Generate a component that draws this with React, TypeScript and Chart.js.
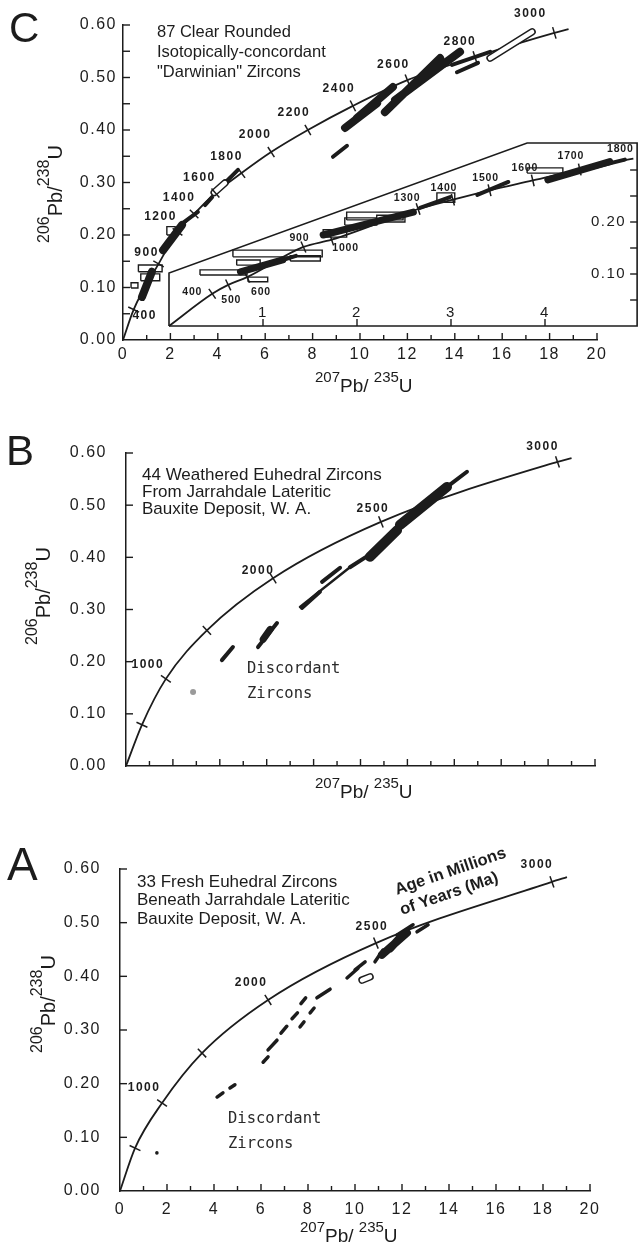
import { useEffect, useRef } from 'react';
import { Chart, registerables } from 'chart.js';

Chart.register(...registerables);

// ===================== DATA =====================
// ---- Panel C : 87 clear rounded zircons (main concordia) ----
const C_AGES = [400, 900, 1200, 1400, 1600, 1800, 2000, 2200, 2400, 2600, 2800, 3000];
const C_CONC_X = [0.45, 1.5, 2.3, 3.0, 3.9, 5.0, 6.25, 7.8, 9.7, 12.0, 14.85, 18.2];
const C_CONC_Y = [0.058, 0.145, 0.206, 0.24, 0.28, 0.318, 0.358, 0.4, 0.446, 0.495, 0.539, 0.585];
const C_CONC_START = [0, 0];
const C_CONC_END = [18.8, 0.592];
const C_LABEL_AGES = [400, 900, 1200, 1400, 1600, 1800, 2000, 2200, 2400, 2600, 2800, 3000];
// zircon ellipses as [x1, y1, x2, y2]
const C_FILLED_THICK = [
  [11.05, 0.434, 13.38, 0.537],
  [11.48, 0.457, 14.22, 0.549],
  [9.37, 0.404, 10.72, 0.451],
  [9.87, 0.423, 11.39, 0.482],
  [0.8, 0.082, 1.22, 0.13],
  [1.69, 0.171, 2.49, 0.219],
];
const C_FILLED_THIN = [
  [8.86, 0.349, 9.45, 0.37],
  [14.09, 0.51, 14.98, 0.528],
  [13.88, 0.524, 15.49, 0.549],
  [2.53, 0.223, 3.16, 0.244],
  [3.46, 0.257, 3.76, 0.272],
  [4.3, 0.299, 4.85, 0.324],
];
const C_OPEN_CAPS = [
  [15.49, 0.537, 17.26, 0.587],
  [3.85, 0.281, 4.3, 0.299],
];
const C_OPEN_BOXES = [
  [0.65, 0.13, 1.65, 0.143],
  [0.75, 0.113, 1.55, 0.126],
  [0.34, 0.099, 0.63, 0.109],
  [1.85, 0.2, 2.2, 0.216],
];

// ---- Panel C inset (expanded 400-1800 Ma concordia) ----
const CI_AGES = [400, 500, 600, 900, 1000, 1300, 1400, 1500, 1600, 1700, 1800];
const CI_CONC_X = [0.46, 0.63, 0.83, 1.43, 1.73, 2.65, 3.02, 3.41, 3.87, 4.37, 4.94];
const CI_CONC_Y = [0.062, 0.079, 0.094, 0.152, 0.166, 0.225, 0.243, 0.261, 0.28, 0.301, 0.322];
const CI_CONC_START = [0, 0];
const CI_CONC_END = [4.98, 0.323];
const CI_FRAME_X = [0, 0, 3.81, 4.98, 4.98, 0];
const CI_FRAME_Y = [0, 0.102, 0.352, 0.352, 0, 0];
const CI_X_TICKS = [1, 2, 3, 4];
const CI_Y_TICKS = [0.05, 0.1, 0.15, 0.2, 0.25, 0.3];
const CI_Y_TICK_LABELS = ['', '0.10', '', '0.20', '', ''];
const CI_FILLED_THICK = [
  [0.76, 0.104, 1.21, 0.127],
  [1.64, 0.175, 2.6, 0.219],
  [4.03, 0.281, 4.69, 0.316],
];
const CI_FILLED_THIN = [
  [0.95, 0.112, 1.35, 0.135],
  [2.67, 0.227, 2.99, 0.248],
  [3.28, 0.252, 3.61, 0.277],
  [4.4, 0.3, 4.85, 0.32],
];
const CI_OPEN_BOXES = [
  [0.68, 0.133, 1.63, 0.146],
  [1.29, 0.125, 1.61, 0.135],
  [0.33, 0.098, 0.83, 0.108],
  [0.72, 0.117, 0.97, 0.127],
  [0.84, 0.085, 1.05, 0.094],
  [1.89, 0.204, 2.49, 0.219],
  [1.87, 0.194, 2.21, 0.208],
  [1.64, 0.171, 1.89, 0.185],
  [2.21, 0.2, 2.51, 0.213],
  [3.81, 0.294, 4.19, 0.304],
  [2.85, 0.238, 3.04, 0.256],
];

// ---- Panel B : 44 weathered euhedral zircons ----
const B_AGES = [500, 1000, 1500, 2000, 2500, 3000];
const B_CONC_X = [0.68, 1.7, 3.45, 6.27, 10.87, 18.4];
const B_CONC_Y = [0.079, 0.167, 0.26, 0.36, 0.468, 0.583];
const B_CONC_START = [0, 0];
const B_CONC_END = [19.0, 0.59];
const B_LABEL_AGES = [1000, 2000, 2500, 3000];
const B_FILLED_THICK = [
  [10.4, 0.401, 11.56, 0.452],
  [11.68, 0.462, 13.69, 0.535],
];
const B_FILLED_MED = [[5.85, 0.243, 6.15, 0.262]];
const B_FILLED_THIN = [
  [13.69, 0.535, 14.54, 0.564],
  [9.55, 0.381, 10.49, 0.408],
  [8.36, 0.353, 9.13, 0.38],
  [4.09, 0.203, 4.56, 0.228],
  [5.63, 0.228, 6.44, 0.274],
  [7.5, 0.303, 8.27, 0.334],
];
const B_LINES = [[7.42, 0.305, 9.55, 0.381]];
const B_SMUDGE = [[2.86, 0.142]];

// ---- Panel A : 33 fresh euhedral zircons ----
const A_AGES = [500, 1000, 1500, 2000, 2500, 3000];
const A_CONC_X = [0.64, 1.79, 3.49, 6.3, 10.89, 18.38];
const A_CONC_Y = [0.08, 0.164, 0.257, 0.356, 0.462, 0.576];
const A_CONC_START = [0, 0];
const A_CONC_END = [19.02, 0.585];
const A_LABEL_AGES = [1000, 2000, 2500, 3000];
const A_FILLED_THICK = [
  [11.15, 0.44, 12.21, 0.481],
  [11.5, 0.452, 12.0, 0.476],
];
const A_FILLED_THIN = [
  [4.13, 0.175, 4.38, 0.183],
  [4.68, 0.192, 4.89, 0.198],
  [6.09, 0.24, 6.3, 0.25],
  [6.3, 0.263, 6.68, 0.281],
  [6.85, 0.294, 7.1, 0.307],
  [7.32, 0.321, 7.55, 0.332],
  [7.7, 0.349, 7.9, 0.36],
  [7.66, 0.306, 7.83, 0.315],
  [8.09, 0.332, 8.26, 0.341],
  [8.38, 0.36, 8.94, 0.376],
  [9.66, 0.397, 10.13, 0.415],
  [10.0, 0.412, 10.43, 0.427],
  [10.85, 0.427, 11.19, 0.449],
  [11.79, 0.477, 12.47, 0.496],
  [12.64, 0.483, 13.11, 0.496],
];
const A_OPEN_CAPS = [[10.3, 0.393, 10.64, 0.399]];
const A_DOTS = [[1.57, 0.071]];

// ---- axes ----
const X_MIN = 0;
const X_MAX = 20;
const X_STEP = 1;
const Y_MIN = 0;
const Y_MAX = 0.6;
const C_Y_STEP = 0.05;
const AB_Y_STEP = 0.1;

// ---- text ----
const C_NOTE = ['87 Clear Rounded', 'Isotopically-concordant', '"Darwinian" Zircons'];
const B_NOTE = ['44 Weathered Euhedral Zircons', 'From Jarrahdale Lateritic', 'Bauxite Deposit, W. A.'];
const A_NOTE = ['33 Fresh Euhedral Zircons', 'Beneath Jarrahdale Lateritic', 'Bauxite Deposit, W. A.'];
const DISCORDANT = ['Discordant', 'Zircons'];
const AGE_NOTE = ['Age in Millions', 'of Years (Ma)'];
const Y_TITLE: [string, boolean][] = [['206', true], ['Pb/', false], ['238', true], ['U', false]];
const X_TITLE: [string, boolean][] = [['207', true], ['Pb/ ', false], ['235', true], ['U', false]];

// ===================== STYLE / LAYOUT =====================
const INK = '#1c1c1c';
const SANS = '"Liberation Sans", Arial, Helvetica, sans-serif';
const MONO = '"DejaVu Sans Mono", "Liberation Mono", monospace';
const PAGE_W = 639;
const PAGE_H = 1246;

const LABEL_OFFSETS: Record<string, Record<number, number[]>> = {
  C: { 400: [11, 6], 900: [-12, -11], 1200: [-17, -15], 1400: [-15, -16], 1600: [-16, -15], 1800: [-15, -16], 2000: [-16, -17], 2200: [-14, -17], 2400: [-14, -17], 2600: [-14, -15], 2800: [-15, -15], 3000: [-24, -19] },
  CI: { 400: [-20, -2], 500: [3, 15], 600: [14, 15], 900: [-4, -9], 1000: [14, 8], 1300: [-11, -11], 1400: [-9, -12], 1500: [-4, -12], 1600: [-8, -12], 1700: [-9, -13], 1800: [-13, -9] },
  B: { 1000: [-18, -14], 2000: [-15, -8], 2500: [-8, -13], 3000: [-15, -15] },
  A: { 1000: [-18, -15], 2000: [-17, -17], 2500: [-4, -16], 3000: [-15, -17] },
};

// inset placement inside panel C canvas (pixels)
const CI_ORIGIN_PX = 169;
const CI_ORIGIN_PY = 326;
const CI_PX_PER_X = 94;
const CI_PX_PER_Y = 520;

// ===================== HELPERS =====================
type XY = { x: number; y: number };
const gap = (): XY => ({ x: NaN, y: NaN });
const pts = (xs: number[], ys: number[]): XY[] => xs.map((x, i) => ({ x, y: ys[i] }));
const segPts = (segs: number[][]): XY[] =>
  segs.flatMap((s) => [{ x: s[0], y: s[1] }, { x: s[2], y: s[3] }, gap()]);
const boxPts = (boxes: number[][]): XY[] =>
  boxes.flatMap((b) => [
    { x: b[0], y: b[1] }, { x: b[2], y: b[1] }, { x: b[2], y: b[3] }, { x: b[0], y: b[3] }, { x: b[0], y: b[1] }, gap(),
  ]);

function lineDs(data: XY[], width: number, color: string, order: number, axes: string[] = ['x', 'y'], extra: any = {}) {
  return {
    type: 'scatter', data, showLine: true, borderColor: color, backgroundColor: color, borderWidth: width,
    pointRadius: 0, pointHoverRadius: 0, pointHitRadius: 0, borderCapStyle: 'round', borderJoinStyle: 'round',
    spanGaps: false, fill: false, clip: false, order, xAxisID: axes[0], yAxisID: axes[1], ...extra,
  };
}

function concordia(xs: number[], ys: number[], start: number[], end: number[], axes: string[], tickR: number) {
  const curve: XY[] = [{ x: start[0], y: start[1] }, ...pts(xs, ys), { x: end[0], y: end[1] }];
  return [
    lineDs(curve, 1.8, INK, 10, axes, { cubicInterpolationMode: 'monotone', borderCapStyle: 'butt' }),
    {
      type: 'scatter', data: pts(xs, ys), xAxisID: axes[0], yAxisID: axes[1], pointStyle: 'line',
      pointRadius: tickR, pointHoverRadius: tickR, pointBorderColor: INK, pointBackgroundColor: INK,
      pointBorderWidth: 1.5, borderColor: INK, borderWidth: 1.5, clip: false, order: 0,
      pointRotation: (ctx: any) => {
        const i = ctx.dataIndex;
        if (i == null) return 0;
        const c = ctx.chart;
        const sx = c.scales[axes[0]];
        const sy = c.scales[axes[1]];
        const a = curve[i];
        const b = curve[i + 2];
        const dx = sx.getPixelForValue(b.x) - sx.getPixelForValue(a.x);
        const dy = sy.getPixelForValue(b.y) - sy.getPixelForValue(a.y);
        return (Math.atan2(dy, dx) * 180) / Math.PI + 90;
      },
    },
  ];
}

function zircons(thick: number[][], thin: number[][], caps: number[][], boxes: number[][], axes: string[], thickW = 8, thinW = 4) {
  const out: any[] = [];
  if (thick.length) out.push(lineDs(segPts(thick), thickW, INK, 8, axes));
  if (thin.length) out.push(lineDs(segPts(thin), thinW, INK, 8, axes));
  if (caps.length) {
    out.push(lineDs(segPts(caps), 7.5, INK, 6, axes));
    out.push(lineDs(segPts(caps), 4.5, '#ffffff', 5, axes));
  }
  if (boxes.length) out.push(lineDs(boxPts(boxes), 1.4, INK, 4, axes, { borderCapStyle: 'butt', borderJoinStyle: 'miter' }));
  return out;
}

type Txt = { text: string; x: number; y: number; font: string; align?: CanvasTextAlign; rot?: number; spacing?: string; color?: string };
type Title = { parts: [string, boolean][]; x: number; y: number; rot: number; main: string; sup: string; raise: number };
type AgeLabels = { ages: number[]; labelAges: number[]; xs: number[]; ys: number[]; axes: string[]; offsets: Record<number, number[]>; font: string; spacing: string };
type Area = { left: number; right: number; top: number; bottom: number };
type PanelSpec = {
  key: string; top: number; h: number; area: Area; yStep: number; yPad: number; xPad: number; xLabels: boolean;
  inset: boolean; datasets: any[]; ageLabels: AgeLabels[]; texts: Txt[]; titles: Title[];
};

function drawParts(ctx: CanvasRenderingContext2D, t: Title) {
  ctx.save();
  ctx.translate(t.x, t.y);
  ctx.rotate((t.rot * Math.PI) / 180);
  ctx.textAlign = 'left';
  ctx.textBaseline = 'alphabetic';
  (ctx as any).letterSpacing = '0px';
  let u = 0;
  for (const [s, sup] of t.parts) {
    ctx.font = sup ? t.sup : t.main;
    ctx.fillText(s, u, sup ? -t.raise : 0);
    u += ctx.measureText(s).width;
  }
  ctx.restore();
}

function seg(ctx: CanvasRenderingContext2D, x1: number, y1: number, x2: number, y2: number) {
  ctx.beginPath();
  ctx.moveTo(x1, y1);
  ctx.lineTo(x2, y2);
  ctx.stroke();
}

function makeDecor(spec: PanelSpec) {
  return {
    id: 'decor' + spec.key,
    beforeDraw(chart: any) {
      chart.ctx.letterSpacing = '1.5px';
    },
    afterDraw(chart: any) {
      const ctx: CanvasRenderingContext2D = chart.ctx;
      const area = chart.chartArea;
      const sx = chart.scales.x;
      const sy = chart.scales.y;
      ctx.save();
      ctx.strokeStyle = INK;
      ctx.fillStyle = INK;
      ctx.lineWidth = 1.4;
      // inward axis tick marks
      for (const t of sx.ticks) {
        if (t.value <= X_MIN) continue;
        const p = sx.getPixelForValue(t.value);
        const len = Math.round(t.value) % 2 === 0 ? 7 : 5;
        seg(ctx, p, area.bottom, p, area.bottom - len);
      }
      for (const t of sy.ticks) {
        if (t.value <= Y_MIN + 1e-9) continue;
        const p = sy.getPixelForValue(t.value);
        seg(ctx, area.left, p, area.left + 7, p);
      }
      // inset axes (panel C)
      if (spec.inset) {
        const sx2 = chart.scales.x2;
        const sy2 = chart.scales.y2;
        const b = sy2.getPixelForValue(0);
        const r = sx2.getPixelForValue(CI_FRAME_X[3]);
        ctx.font = `15px ${SANS}`;
        (ctx as any).letterSpacing = '1.5px';
        ctx.textAlign = 'center';
        ctx.textBaseline = 'alphabetic';
        CI_X_TICKS.forEach((v) => {
          const p = sx2.getPixelForValue(v);
          seg(ctx, p, b, p, b - 7);
          ctx.fillText(String(v), p, b - 9);
        });
        ctx.textAlign = 'right';
        ctx.textBaseline = 'middle';
        CI_Y_TICKS.forEach((v, i) => {
          const p = sy2.getPixelForValue(v);
          seg(ctx, r, p, r - 7, p);
          if (CI_Y_TICK_LABELS[i]) ctx.fillText(CI_Y_TICK_LABELS[i], r - 11, p);
        });
      }
      // age labels
      ctx.textAlign = 'center';
      ctx.textBaseline = 'middle';
      for (const al of spec.ageLabels) {
        ctx.font = al.font;
        (ctx as any).letterSpacing = al.spacing;
        const xs = chart.scales[al.axes[0]];
        const ys = chart.scales[al.axes[1]];
        al.labelAges.forEach((age) => {
          const i = al.ages.indexOf(age);
          const off = al.offsets[age] || [-15, -15];
          const px = xs.getPixelForValue(al.xs[i]) + off[0];
          const py = ys.getPixelForValue(al.ys[i]) + off[1];
          ctx.fillText(String(age), px, py);
        });
      }
      // free texts
      for (const t of spec.texts) {
        ctx.save();
        ctx.font = t.font;
        ctx.fillStyle = t.color || INK;
        (ctx as any).letterSpacing = t.spacing || '0px';
        ctx.textAlign = t.align || 'left';
        ctx.textBaseline = 'alphabetic';
        ctx.translate(t.x, t.y);
        if (t.rot) ctx.rotate((t.rot * Math.PI) / 180);
        ctx.fillText(t.text, 0, 0);
        ctx.restore();
      }
      for (const t of spec.titles) drawParts(ctx, t);
      ctx.restore();
    },
  };
}

function buildConfig(spec: PanelSpec) {
  const a = spec.area;
  const tickFont = { family: SANS, size: 16 };
  const scales: any = {
    x: {
      type: 'linear', position: 'bottom', min: X_MIN, max: X_MAX,
      afterFit: (s: any) => { s.height = spec.h - a.bottom; },
      ticks: {
        stepSize: X_STEP, autoSkip: false, maxRotation: 0, minRotation: 0, includeBounds: false,
        padding: spec.xPad, display: spec.xLabels, font: tickFont, color: INK,
        callback: (v: number) => (Math.round(v) % 2 === 0 ? String(Math.round(v)) : ''),
      },
      grid: { display: true, drawOnChartArea: false, drawTicks: false, color: 'rgba(0,0,0,0)' },
      border: { display: true, color: INK, width: 1.5 },
    },
    y: {
      type: 'linear', position: 'left', min: Y_MIN, max: Y_MAX,
      afterFit: (s: any) => { s.width = a.left; },
      ticks: {
        stepSize: spec.yStep, autoSkip: false, includeBounds: false, padding: spec.yPad, font: tickFont, color: INK,
        callback: (v: number) => {
          const k = Math.round(v * 100);
          return k % 10 === 0 ? (k / 100).toFixed(2) : '';
        },
      },
      grid: { display: true, drawOnChartArea: false, drawTicks: false, color: 'rgba(0,0,0,0)' },
      border: { display: true, color: INK, width: 1.5 },
    },
  };
  if (spec.inset) {
    scales.x2 = {
      type: 'linear', display: false,
      min: (a.left - CI_ORIGIN_PX) / CI_PX_PER_X, max: (a.right - CI_ORIGIN_PX) / CI_PX_PER_X,
    };
    scales.y2 = {
      type: 'linear', display: false,
      min: -(a.bottom - CI_ORIGIN_PY) / CI_PX_PER_Y, max: (CI_ORIGIN_PY - a.top) / CI_PX_PER_Y,
    };
  }
  return {
    type: 'scatter',
    data: { datasets: spec.datasets },
    options: {
      responsive: false, animation: false, devicePixelRatio: 1, events: [],
      layout: { padding: { left: 0, top: a.top, right: PAGE_W - a.right, bottom: 0 } },
      plugins: { legend: { display: false }, tooltip: { enabled: false } },
      scales,
    },
    plugins: [makeDecor(spec)],
  };
}

// ===================== PANELS =====================
const AGE_FONT = `bold 12px ${SANS}`;
const AGE_FONT_SMALL = `bold 10.5px ${SANS}`;

const noteTexts = (lines: string[], x: number, ys: number[], size: number): Txt[] =>
  lines.map((t, i) => ({ text: t, x, y: ys[i], font: `${size}px ${SANS}` }));
const discTexts = (x: number, ys: number[]): Txt[] =>
  DISCORDANT.map((t, i) => ({ text: t, x, y: ys[i], font: `15.5px ${MONO}`, color: '#2a2a2a' }));
const yTitle = (x: number, y: number): Title => ({ parts: Y_TITLE, x, y, rot: -90, main: `20px ${SANS}`, sup: `16px ${SANS}`, raise: 13 });
const xTitle = (x: number, y: number): Title => ({ parts: X_TITLE, x, y, rot: 0, main: `19px ${SANS}`, sup: `15px ${SANS}`, raise: 10 });

const PANEL_C: PanelSpec = {
  key: 'C', top: 0, h: 400,
  area: { left: 123, right: 597, top: 25, bottom: 340 },
  yStep: C_Y_STEP, yPad: 6, xPad: 5, xLabels: true, inset: true,
  datasets: [
    ...concordia(C_CONC_X, C_CONC_Y, C_CONC_START, C_CONC_END, ['x', 'y'], 6),
    ...zircons(C_FILLED_THICK, C_FILLED_THIN, C_OPEN_CAPS, C_OPEN_BOXES, ['x', 'y']),
    lineDs(pts(CI_FRAME_X, CI_FRAME_Y), 1.6, INK, 9, ['x2', 'y2'], { borderCapStyle: 'butt', borderJoinStyle: 'miter' }),
    ...concordia(CI_CONC_X, CI_CONC_Y, CI_CONC_START, CI_CONC_END, ['x2', 'y2'], 6),
    ...zircons(CI_FILLED_THICK, CI_FILLED_THIN, [], CI_OPEN_BOXES, ['x2', 'y2'], 7, 4),
  ],
  ageLabels: [
    { ages: C_AGES, labelAges: C_LABEL_AGES, xs: C_CONC_X, ys: C_CONC_Y, axes: ['x', 'y'], offsets: LABEL_OFFSETS.C, font: AGE_FONT, spacing: '1.5px' },
    { ages: CI_AGES, labelAges: CI_AGES, xs: CI_CONC_X, ys: CI_CONC_Y, axes: ['x2', 'y2'], offsets: LABEL_OFFSETS.CI, font: AGE_FONT_SMALL, spacing: '0.8px' },
  ],
  texts: [
    { text: 'C', x: 9, y: 42, font: `42px ${SANS}` },
    ...noteTexts(C_NOTE, 157, [37, 57, 77], 16.5),
  ],
  titles: [yTitle(62, 243), xTitle(315, 392)],
};

const PANEL_B: PanelSpec = {
  key: 'B', top: 400, h: 410,
  area: { left: 126, right: 595, top: 53, bottom: 366 },
  yStep: AB_Y_STEP, yPad: 19, xPad: 8, xLabels: false, inset: false,
  datasets: [
    ...concordia(B_CONC_X, B_CONC_Y, B_CONC_START, B_CONC_END, ['x', 'y'], 6),
    ...zircons(B_FILLED_THICK, B_FILLED_THIN, [], [], ['x', 'y'], 10, 4),
    lineDs(segPts(B_FILLED_MED), 7, INK, 8),
    lineDs(segPts(B_LINES), 2.5, INK, 8),
    { type: 'scatter', data: pts(B_SMUDGE.map((p) => p[0]), B_SMUDGE.map((p) => p[1])), pointRadius: 3, pointBackgroundColor: '#9a9a9a', pointBorderWidth: 0, borderWidth: 0, clip: false, order: 7 },
  ],
  ageLabels: [
    { ages: B_AGES, labelAges: B_LABEL_AGES, xs: B_CONC_X, ys: B_CONC_Y, axes: ['x', 'y'], offsets: LABEL_OFFSETS.B, font: AGE_FONT, spacing: '1.5px' },
  ],
  texts: [
    { text: 'B', x: 6, y: 65, font: `42px ${SANS}` },
    ...noteTexts(B_NOTE, 142, [80, 97, 114], 17),
    ...discTexts(247, [273, 298]),
  ],
  titles: [yTitle(50, 245), xTitle(315, 398)],
};

const PANEL_A: PanelSpec = {
  key: 'A', top: 810, h: 436,
  area: { left: 120, right: 590, top: 59, bottom: 381 },
  yStep: AB_Y_STEP, yPad: 19, xPad: 9, xLabels: true, inset: false,
  datasets: [
    ...concordia(A_CONC_X, A_CONC_Y, A_CONC_START, A_CONC_END, ['x', 'y'], 6),
    ...zircons(A_FILLED_THICK, A_FILLED_THIN, A_OPEN_CAPS, [], ['x', 'y'], 8, 3.5),
    { type: 'scatter', data: pts(A_DOTS.map((p) => p[0]), A_DOTS.map((p) => p[1])), pointRadius: 1.8, pointBackgroundColor: INK, pointBorderWidth: 0, borderWidth: 0, clip: false, order: 7 },
  ],
  ageLabels: [
    { ages: A_AGES, labelAges: A_LABEL_AGES, xs: A_CONC_X, ys: A_CONC_Y, axes: ['x', 'y'], offsets: LABEL_OFFSETS.A, font: AGE_FONT, spacing: '1.5px' },
  ],
  texts: [
    { text: 'A', x: 7, y: 70, font: `46px ${SANS}` },
    ...noteTexts(A_NOTE, 137, [77, 95, 114], 17),
    ...discTexts(228, [313, 338]),
    { text: AGE_NOTE[0], x: 397, y: 85, font: `bold 16.5px ${SANS}`, rot: -19 },
    { text: AGE_NOTE[1], x: 402, y: 105, font: `bold 16.5px ${SANS}`, rot: -19 },
  ],
  titles: [yTitle(55, 243), xTitle(300, 432)],
};

const PANELS = [PANEL_C, PANEL_B, PANEL_A];

function Panel({ spec }: { spec: PanelSpec }) {
  const ref = useRef<HTMLCanvasElement | null>(null);
  useEffect(() => {
    if (!ref.current) return;
    const chart = new Chart(ref.current, buildConfig(spec) as any);
    return () => chart.destroy();
  }, [spec]);
  return (
    <canvas
      ref={ref}
      width={PAGE_W}
      height={spec.h}
      style={{ position: 'absolute', left: 0, top: spec.top, width: PAGE_W, height: spec.h, display: 'block' }}
    />
  );
}

export default function App() {
  return (
    <div style={{ position: 'absolute', left: 0, top: 0, width: PAGE_W, height: PAGE_H, background: '#ffffff', overflow: 'hidden' }}>
      {PANELS.map((p) => (
        <Panel key={p.key} spec={p} />
      ))}
    </div>
  );
}
